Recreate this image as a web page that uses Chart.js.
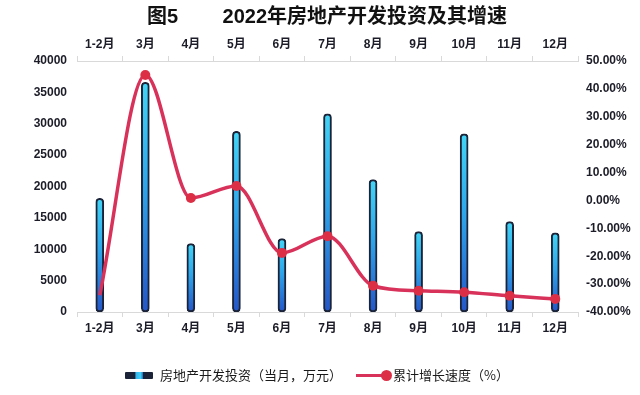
<!DOCTYPE html>
<html>
<head>
<meta charset="utf-8">
<script src="https://cdn.jsdelivr.net/npm/chart.js@4.4.1/dist/chart.umd.min.js"></script>
<style>
  html, body { margin: 0; padding: 0; background: #ffffff; }
  #wrap { position: relative; width: 640px; height: 395px; overflow: hidden; }
  #c { position: absolute; left: 0; top: 0; }
  #title { position: absolute; left: 147px; top: 4px; font: bold 20px "Liberation Sans", "Noto Sans CJK SC", sans-serif; color: #111; white-space: pre; line-height: 24px; }
  .leg { position: absolute; top: 367px; font: 13px "Noto Sans CJK SC", sans-serif; color: #1a1a1a; line-height: 16px; white-space: nowrap; }
  #barbox { position: absolute; left: 125px; top: 372px; width: 28px; height: 7px; border-radius: 1px;
    background: linear-gradient(to right, #1b2338 0%, #1b2338 34%, #34b6ef 40%, #3fd0f5 55%, #2a8ee0 62%, #1b2338 66%, #1b2338 100%); }
  #lineseg { position: absolute; left: 356px; top: 374px; width: 28px; height: 3px; background: #d8315a; }
  #linedot { position: absolute; left: 381px; top: 370px; width: 11px; height: 11px; border-radius: 50%; background: #dc2f46; }
</style>
</head>
<body>
<div id="wrap">
  <canvas id="c" width="640" height="395"></canvas>
  <div id="title">图5        2022年房地产开发投资及其增速</div>
  <div id="barbox"></div>
  <div class="leg" style="left:160px;">房地产开发投资（当月，万元）</div>
  <div id="lineseg"></div>
  <div id="linedot"></div>
  <div class="leg" style="left:393px;">累计增长速度（%）</div>
</div>
<script>
const categories = ['1-2月','3月','4月','5月','6月','7月','8月','9月','10月','11月','12月'];
const investment = [18100, 36600, 10900, 28800, 11700, 31600, 21100, 12800, 28400, 14400, 12600];
const growthPct = [-34.0, 45.0, 0.9, 5.2, -18.8, -12.8, -30.6, -32.4, -32.9, -34.2, -35.3];
const leftTicks = [0, 40000, 5000];
const rightTicks = [-40, 50, 10];

const FONT_FAMILY = '"Liberation Sans", "Noto Sans CJK SC", sans-serif';
const TEXT = '#1c1c28';
const GRID = '#d9d9d9';

function barFill(ctx) {
  const chart = ctx.chart;
  if (!chart.chartArea || ctx.type !== 'data') return '#2a8ee0';
  const ys = chart.scales.y;
  const top = ys.getPixelForValue(ctx.raw);
  const bot = ys.getPixelForValue(0);
  if (!isFinite(top) || !isFinite(bot) || bot - top < 1) return '#2a8ee0';
  const g = chart.ctx.createLinearGradient(0, top, 0, bot);
  g.addColorStop(0, '#42d4f6');
  g.addColorStop(0.45, '#2ea6ea');
  g.addColorStop(1, '#2456c8');
  return g;
}

new Chart(document.getElementById('c'), {
  data: {
    labels: categories,
    datasets: [
      {
        type: 'line',
        data: growthPct,
        yAxisID: 'y1',
        xAxisID: 'x',
        order: 0,
        borderColor: '#d8315a',
        borderWidth: 3.5,
        tension: 0.4,
        cubicInterpolationMode: 'monotone',
        pointRadius: ctx => ctx.dataIndex === 0 ? 0 : 5,
        pointBackgroundColor: '#dc2f46',
        pointBorderColor: '#dc2f46',
        pointBorderWidth: 0,
        fill: false
      },
      {
        type: 'bar',
        data: investment,
        yAxisID: 'y',
        xAxisID: 'x',
        order: 1,
        barThickness: 8,
        backgroundColor: barFill,
        borderColor: '#1b2338',
        borderWidth: 2,
        borderRadius: 4,
        borderSkipped: false
      }
    ]
  },
  options: {
    responsive: false,
    animation: false,
    devicePixelRatio: 1,
    layout: { padding: 0 },
    plugins: { legend: { display: false }, tooltip: { enabled: false }, title: { display: false } },
    scales: {
      x: {
        type: 'category',
        position: 'bottom',
        offset: true,
        grid: { display: true, drawOnChartArea: false, drawTicks: true, tickLength: 5, color: GRID, offset: true },
        border: { display: true, color: GRID, width: 1 },
        ticks: { color: TEXT, font: { family: FONT_FAMILY, size: 12, weight: 'bold' }, padding: 4, maxRotation: 0, autoSkip: false },
        afterFit: s => { s.height = 83; }
      },
      x2: {
        type: 'category',
        position: 'top',
        labels: categories,
        offset: true,
        grid: { display: true, drawOnChartArea: false, drawTicks: true, tickLength: 5, color: GRID, offset: true },
        border: { display: true, color: GRID, width: 1 },
        ticks: { color: TEXT, font: { family: FONT_FAMILY, size: 12, weight: 'bold' }, padding: 4, maxRotation: 0, autoSkip: false },
        afterFit: s => { s.height = 61; }
      },
      y: {
        position: 'left',
        min: leftTicks[0],
        max: leftTicks[1],
        grid: { display: false, drawTicks: false },
        border: { display: false },
        ticks: { stepSize: leftTicks[2], color: TEXT, padding: 10, font: { family: FONT_FAMILY, size: 12, weight: 'bold' },
          callback: v => String(v) },
        afterFit: s => { s.width = 77; }
      },
      y1: {
        position: 'right',
        min: rightTicks[0],
        max: rightTicks[1],
        grid: { display: false, drawTicks: false },
        border: { display: false },
        ticks: { stepSize: rightTicks[2], color: TEXT, padding: 8, font: { family: FONT_FAMILY, size: 12, weight: 'bold' },
          callback: v => Number(v).toFixed(2) + '%' },
        afterFit: s => { s.width = 62; }
      }
    }
  }
});
</script>
</body>
</html>
